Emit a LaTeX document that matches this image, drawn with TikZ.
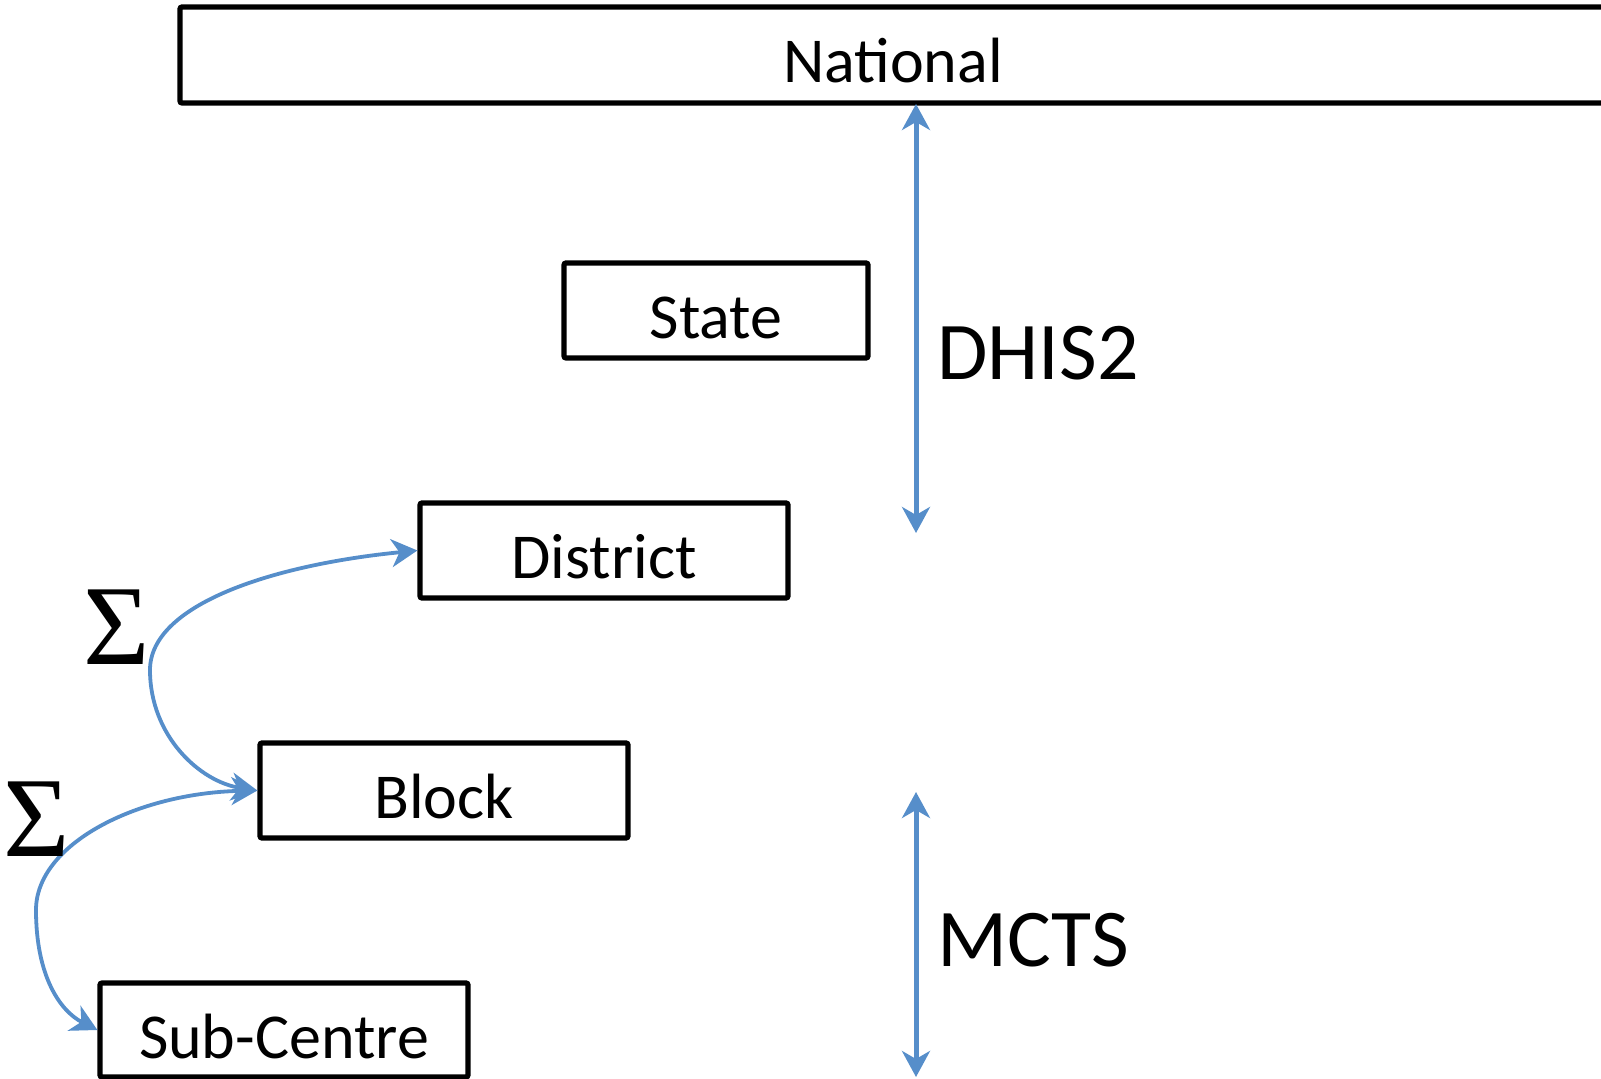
\documentclass[tikz,border=0pt]{standalone}
\usepackage{fontspec}
\setmainfont{Carlito}
\newfontfamily\sigmafont{Liberation Serif}
\usetikzlibrary{arrows.meta}
\definecolor{arrowblue}{RGB}{86,142,202}
\tikzset{
  levelbox/.style={draw=black, line width=2.6pt, rounded corners=1pt, inner sep=0pt,
    font=\fontsize{32}{32}\selectfont, text height=28pt, text depth=0pt},
  bigarrow/.style={draw=arrowblue, line width=2.5pt,
    {Stealth[length=13pt,width=14pt,inset=4pt]}-{Stealth[length=13pt,width=14pt,inset=4pt]}},
  curvearrow/.style={draw=arrowblue, line width=1.9pt,
    {Stealth[length=13pt,width=14pt,inset=4pt]}-{Stealth[length=13pt,width=14pt,inset=4pt]}},
  sidelabel/.style={inner sep=0pt, anchor=base west, font=\fontsize{41}{41}\selectfont},
  sigmalabel/.style={inner sep=0pt, font=\sigmafont\fontsize{57}{57}\selectfont}
}
\begin{document}
\begin{tikzpicture}[x=0.5pt,y=-0.5pt]
\useasboundingbox (0,0) rectangle (1601,1079);
% boxes (centre, size in px)
\node[levelbox, minimum width=713pt, minimum height=48pt] (national) at (893,55) {National};
\node[levelbox, minimum width=152pt, minimum height=47.5pt] (state) at (716,310.5) {State};
\node[levelbox, minimum width=184pt, minimum height=47.5pt] (district) at (604,550.5) {District};
\node[levelbox, minimum width=184pt, minimum height=47.5pt] (block) at (444,790.5) {Block};
\node[levelbox, minimum width=184pt, minimum height=47pt] (subcentre) at (284,1030) {Sub-Centre};
% side arrows
\coordinate (d1) at (916,104);
\coordinate (d2) at (916,533);
\coordinate (m1) at (916,792);
\coordinate (m2) at (916,1077);
\draw[bigarrow] (d1) -- (d2);
\draw[bigarrow] (m1) -- (m2);
\node[sidelabel] (dhis) at (937,380) {DHIS2};
\node[sidelabel] (mcts) at (937,966) {MCTS};
% aggregation curves
\coordinate (c1) at (150,670);
\coordinate (c2) at (36,910);
\draw[curvearrow] (district.west) .. controls (271,565) and (150,605) .. (c1)
  .. controls (150,736) and (200,782) .. (block.west);
\draw[curvearrow] (block.west) .. controls (137,793) and (36,844) .. (c2)
  .. controls (36,976) and (60,1011) .. (subcentre.west);
% sigma labels
\node[sigmalabel] (sig1) at (117,627) {Σ};
\node[sigmalabel] (sig2) at (37,819) {Σ};
\end{tikzpicture}
\end{document}
